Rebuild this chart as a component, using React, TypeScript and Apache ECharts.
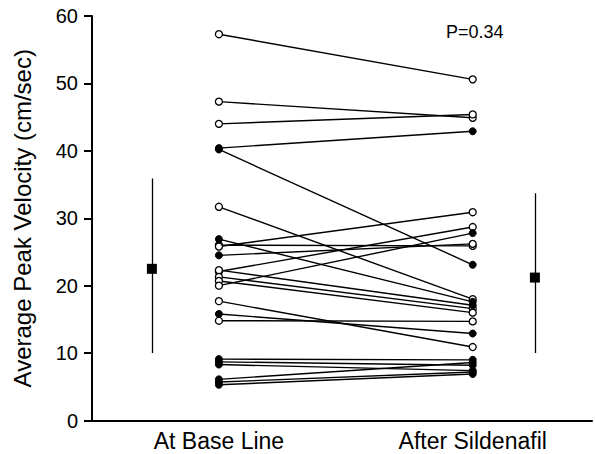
import React, { useEffect, useRef } from "react";
import * as echarts from "echarts";

const categories = ["At Base Line", "After Sildenafil"];
const categoryX = [0.5, 1.5];
const baseValues = [57.3, 47.3, 44.0, 40.4, 40.2, 31.7, 26.9, 26.0, 25.8, 24.5, 22.1, 22.3, 21.3, 20.7, 20.0, 17.7, 15.8, 14.8, 9.1, 8.7, 8.3, 6.1, 5.7, 5.3];
const afterValues = [50.6, 44.9, 45.4, 42.9, 23.1, 18.0, 17.6, 25.9, 30.9, 26.2, 28.7, 17.1, 16.6, 16.0, 27.8, 10.9, 12.9, 14.7, 9.0, 8.2, 7.4, 8.6, 7.2, 6.9];
const baseFilled = [0, 0, 0, 1, 1, 0, 1, 0, 0, 1, 0, 0, 0, 0, 0, 0, 1, 0, 1, 1, 1, 1, 1, 1];
const afterFilled = [0, 0, 0, 1, 1, 0, 1, 0, 0, 0, 0, 1, 0, 0, 1, 0, 1, 0, 1, 1, 1, 1, 1, 1];
const meanX = [0.236, 1.745];
const meanValues = [22.5, 21.2];
const sdLow = [10.0, 10.0];
const sdHigh = [35.9, 33.7];
const yTicks = [0, 10, 20, 30, 40, 50, 60];
const pText = "P=0.34";

const FONT = "'Liberation Sans', Arial, Helvetica, sans-serif";

export default function App() {
  const ref = useRef<HTMLDivElement>(null);
  useEffect(() => {
    if (!ref.current) return;
    const chart = echarts.init(ref.current, null, { renderer: "svg" });
    const pairLines = baseValues.map((b, i) => ({
      coords: [
        [categoryX[0], b],
        [categoryX[1], afterValues[i]],
      ],
    }));
    const openPts: number[][] = [];
    const filledPts: number[][] = [];
    baseValues.forEach((b, i) => {
      (baseFilled[i] ? filledPts : openPts).push([categoryX[0], b]);
    });
    afterValues.forEach((a, i) => {
      (afterFilled[i] ? filledPts : openPts).push([categoryX[1], a]);
    });
    const sdLines = meanX.map((x, i) => ({
      coords: [
        [x, sdLow[i]],
        [x, sdHigh[i]],
      ],
    }));
    chart.setOption({
      animation: false,
      grid: { left: 92, top: 16, right: 3, bottom: 33.5, containLabel: false },
      xAxis: {
        type: "value",
        min: 0,
        max: 1.97,
        interval: 0.5,
        axisLine: { show: true, lineStyle: { color: "#000", width: 2 } },
        axisTick: { show: false },
        splitLine: { show: false },
        axisLabel: {
          color: "#000",
          fontSize: 23,
          fontFamily: FONT,
          margin: 9,
          showMaxLabel: false,
          formatter: (v: number) => {
            const idx = categoryX.findIndex((c) => Math.abs(c - v) < 1e-6);
            return idx >= 0 ? categories[idx] : "";
          },
        },
      },
      yAxis: {
        type: "value",
        min: yTicks[0],
        max: yTicks[yTicks.length - 1],
        interval: 10,
        name: "Average Peak Velocity (cm/sec)",
        nameLocation: "middle",
        nameGap: 58,
        nameTextStyle: { color: "#000", fontSize: 24, fontFamily: FONT },
        axisLine: { show: true, lineStyle: { color: "#000", width: 2 } },
        axisTick: { show: true, length: 8, lineStyle: { color: "#000", width: 2 } },
        splitLine: { show: false },
        axisLabel: { color: "#000", fontSize: 20, fontFamily: FONT, margin: 14 },
      },
      graphic: [
        {
          type: "text",
          left: 446,
          top: 23,
          style: { text: pText, fontSize: 18, fontFamily: FONT, fill: "#000" },
        },
      ],
      series: [
        {
          type: "lines",
          coordinateSystem: "cartesian2d",
          data: pairLines,
          lineStyle: { color: "#000", width: 1.4, opacity: 1 },
          silent: true,
          z: 2,
        },
        {
          type: "lines",
          coordinateSystem: "cartesian2d",
          data: sdLines,
          lineStyle: { color: "#000", width: 1.3, opacity: 1 },
          silent: true,
          z: 2,
        },
        {
          type: "scatter",
          data: openPts,
          symbol: "circle",
          symbolSize: 7,
          itemStyle: { color: "#fff", borderColor: "#000", borderWidth: 1.3, opacity: 1 },
          z: 3,
        },
        {
          type: "scatter",
          data: filledPts,
          symbol: "circle",
          symbolSize: 7,
          itemStyle: { color: "#000", borderColor: "#000", borderWidth: 1, opacity: 1 },
          z: 4,
        },
        {
          type: "scatter",
          data: meanX.map((x, i) => [x, meanValues[i]]),
          symbol: "rect",
          symbolSize: 10,
          itemStyle: { color: "#000", opacity: 1 },
          z: 5,
        },
      ],
    });
    return () => chart.dispose();
  }, []);
  return (
    <div
      ref={ref}
      style={{ position: "absolute", left: 0, top: 0, width: 595, height: 454, background: "#fff" }}
    />
  );
}
